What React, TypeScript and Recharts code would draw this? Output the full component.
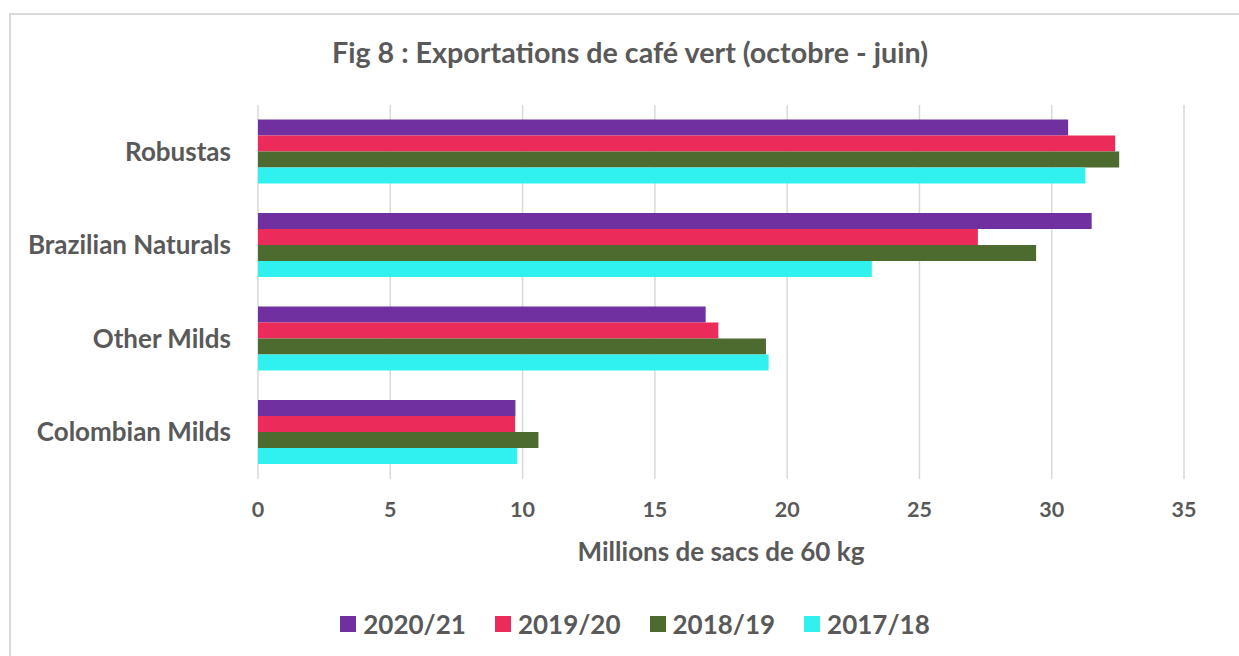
import { BarChart, Bar, XAxis, YAxis, CartesianGrid, Legend } from "recharts";

const categories = ["Robustas", "Brazilian Naturals", "Other Milds", "Colombian Milds"];
const seasons = ["2020/21", "2019/20", "2018/19", "2017/18"];
const colors = ["#7030A0", "#EB2C5B", "#4E6B2F", "#31F1EE"];

const s2020 = [30.62, 31.51, 16.92, 9.73];
const s2019 = [32.4, 27.21, 17.4, 9.72];
const s2018 = [32.55, 29.41, 19.2, 10.6];
const s2017 = [31.27, 23.2, 19.3, 9.8];

const xTicks = [0, 5, 10, 15, 20, 25, 30, 35];

const series = [s2020, s2019, s2018, s2017];
const data = categories.map((name, i) => {
  const row: Record<string, string | number> = { name };
  seasons.forEach((s, j) => {
    row[s] = series[j][i];
  });
  return row;
});

const TEXT = "#595959";
const FONT = "Lato, sans-serif";

function LegendBox() {
  return (
    <div style={{ display: "flex", justifyContent: "center", gap: 29, fontFamily: FONT, fontWeight: 700, fontSize: 26, color: TEXT }}>
      {seasons.map((s, i) => (
        <div key={s} style={{ display: "flex", alignItems: "center" }}>
          <span style={{ display: "inline-block", width: 16, height: 16, background: colors[i], marginRight: 7 }} />
          <span>{s}</span>
        </div>
      ))}
    </div>
  );
}

export default function App() {
  return (
    <div style={{ position: "absolute", left: 0, top: 0, width: 1239, height: 656, background: "#fff", overflow: "hidden" }}>
      <div
        style={{
          position: "absolute",
          left: 9,
          top: 13,
          width: 1240,
          height: 660,
          borderLeft: "2px solid #D9D9D9",
          borderTop: "2px solid #D9D9D9",
        }}
      />
      <div
        style={{
          position: "absolute",
          left: 0,
          top: 35,
          width: 1260,
          textAlign: "center",
          fontFamily: FONT,
          fontWeight: 700,
          fontSize: 28.7,
          color: TEXT,
        }}
      >
        Fig 8 : Exportations de café vert (octobre - juin)
      </div>
      <BarChart
        width={1239}
        height={656}
        data={data}
        layout="vertical"
        margin={{ top: 105, right: 55, bottom: 55, left: 0 }}
        barCategoryGap="15.6%"
        barGap={0}
        style={{ position: "absolute", left: 0, top: 0, fontFamily: FONT }}
      >
        <CartesianGrid horizontal={false} stroke="#D9D9D9" strokeWidth={1.5} />
        <XAxis
          type="number"
          domain={[0, 35]}
          ticks={xTicks}
          axisLine={false}
          tickLine={false}
          tickMargin={17}
          height={90}
          tick={{ fill: TEXT, fontSize: 21.5, fontWeight: 700, fontFamily: FONT }}
          label={{
            value: "Millions de sacs de 60 kg",
            position: "insideBottom",
            offset: 8,
            fill: TEXT,
            fontSize: 26,
            fontWeight: 700,
            fontFamily: FONT,
          }}
        />
        <YAxis
          type="category"
          dataKey="name"
          width={258}
          axisLine={false}
          tickLine={false}
          tickMargin={21}
          tick={{ fill: TEXT, fontSize: 26, fontWeight: 700, fontFamily: FONT }}
        />
        <Legend
          verticalAlign="bottom"
          wrapperStyle={{ top: 608, left: 0, width: 1270 }}
          content={() => <LegendBox />}
        />
        {seasons.map((s, i) => (
          <Bar key={s} dataKey={s} fill={colors[i]} isAnimationActive={false} />
        ))}
      </BarChart>
    </div>
  );
}
